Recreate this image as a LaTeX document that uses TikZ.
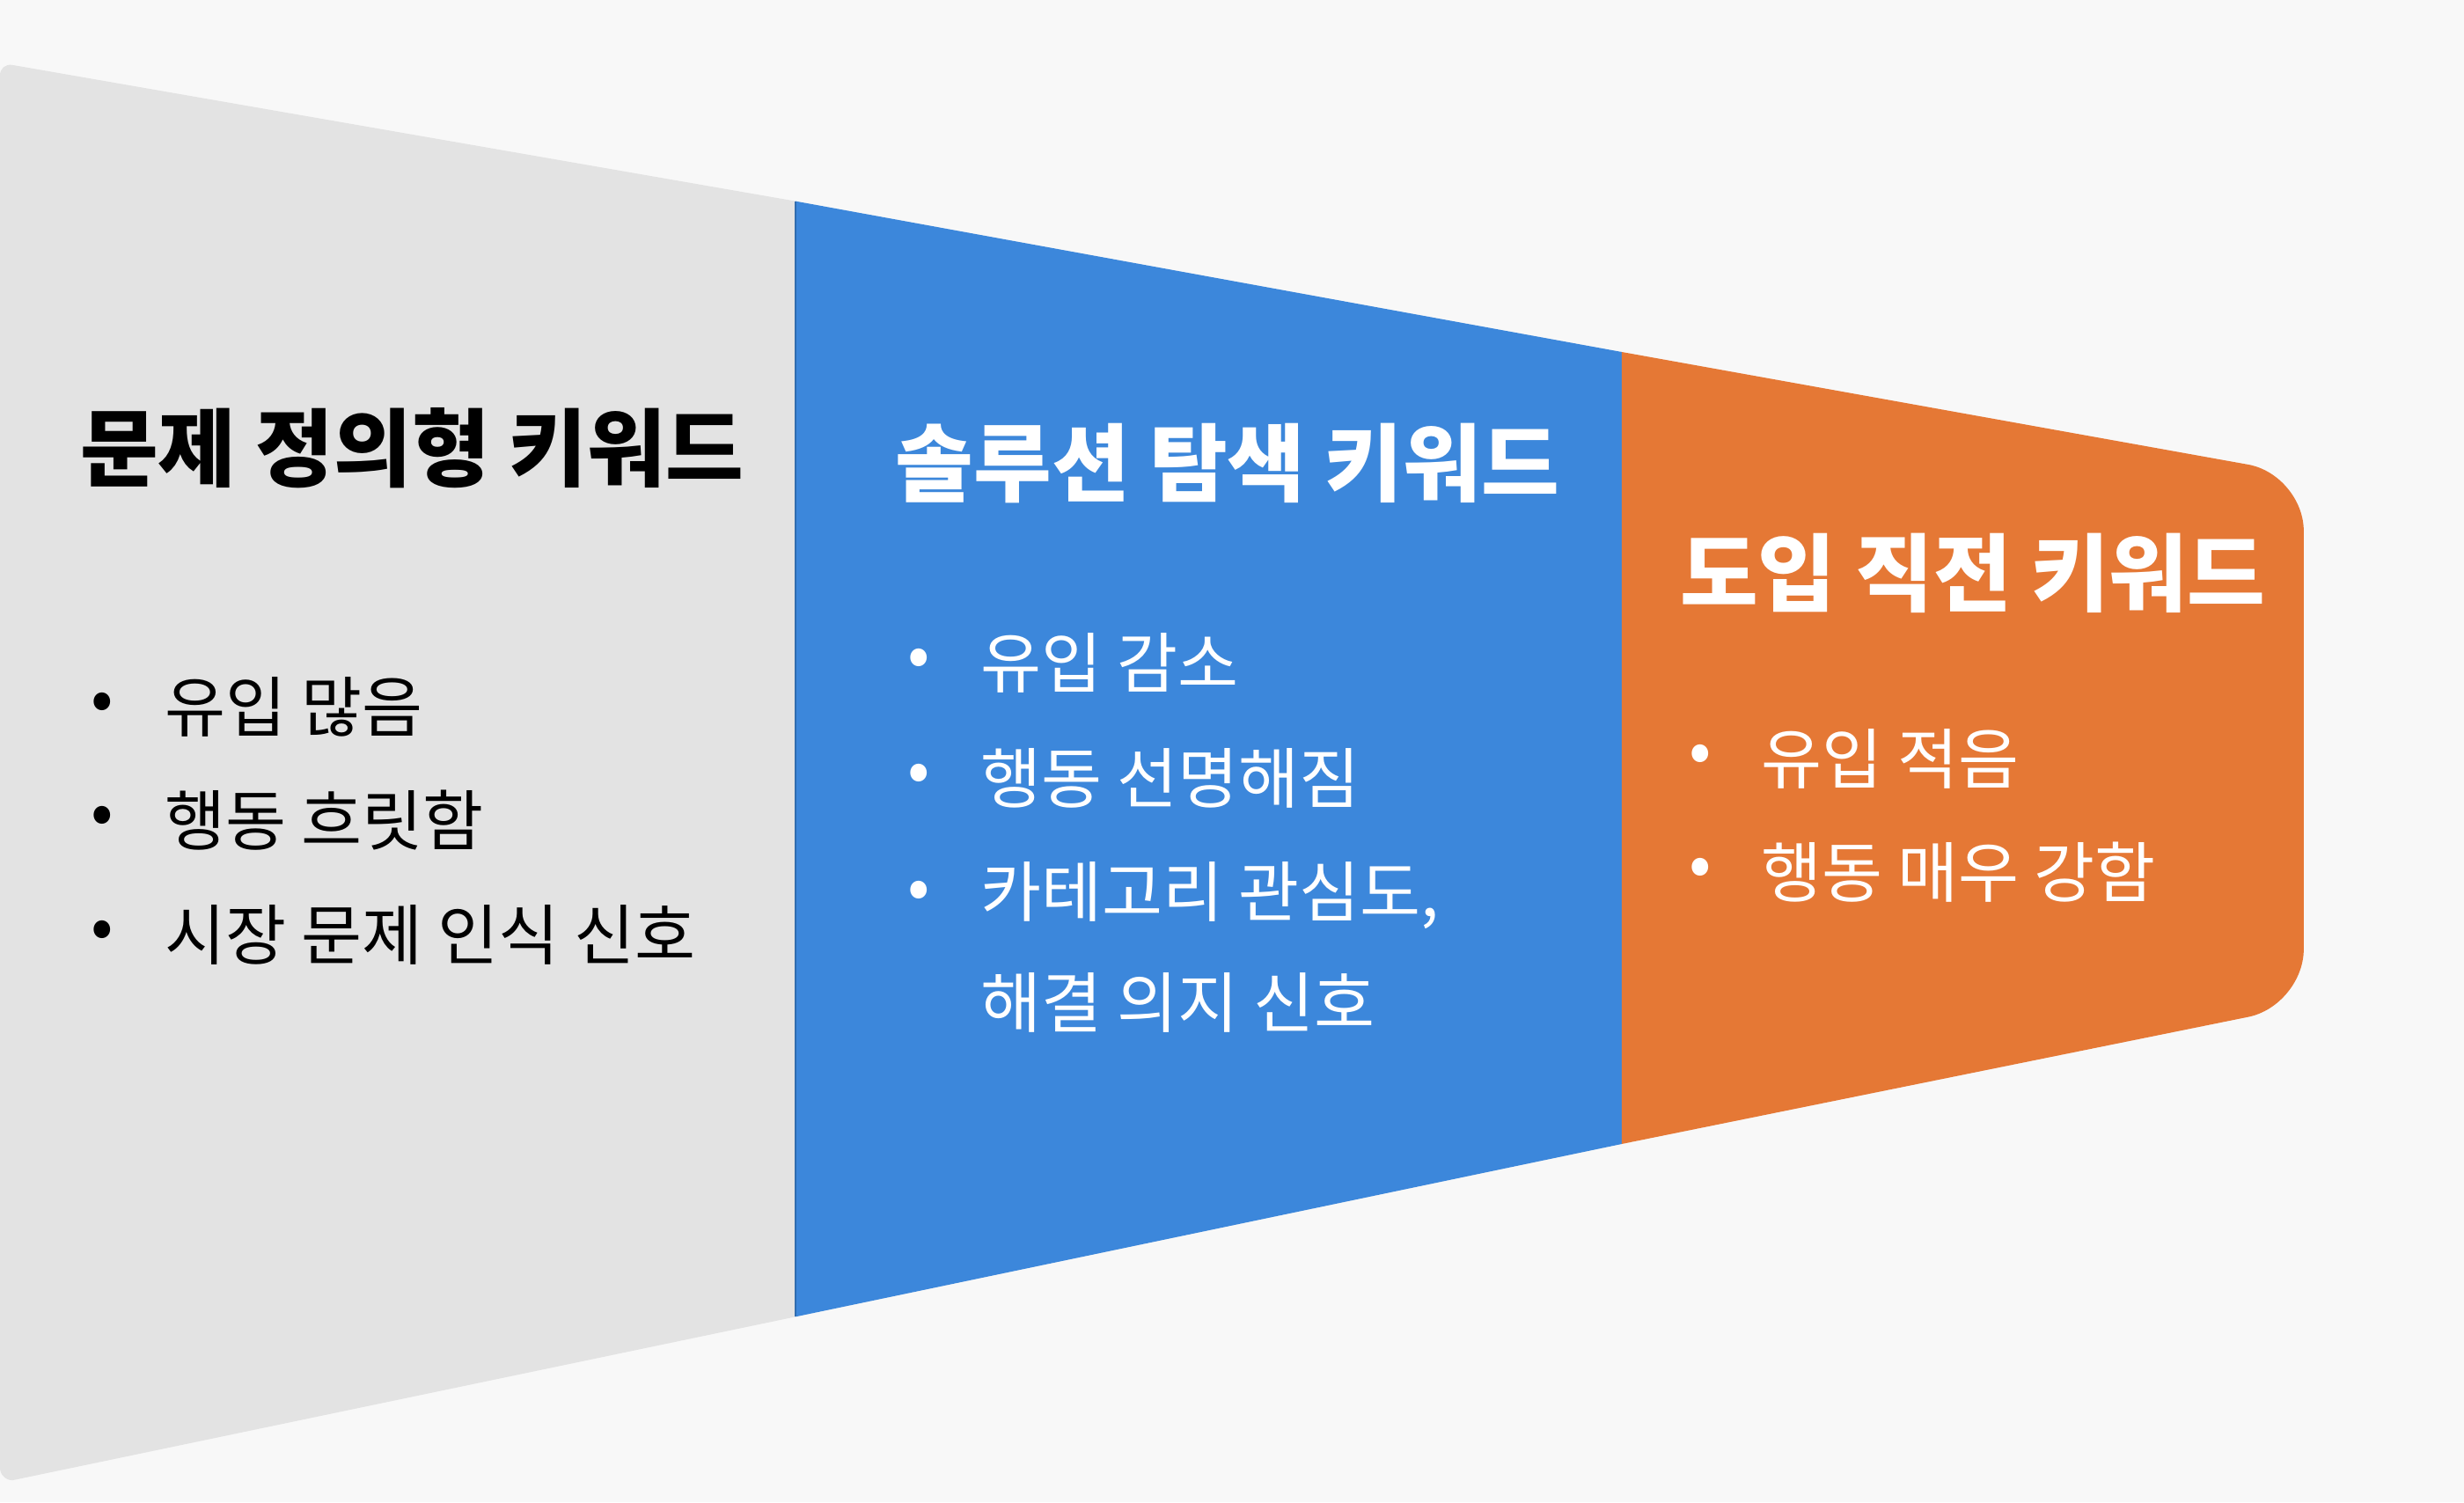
\documentclass[tikz,border=0pt]{standalone}
\usepackage{fontspec}
\setmainfont{Noto Sans CJK KR}
\newfontfamily\krb{Noto Sans CJK KR Bold}
\definecolor{bg}{HTML}{F8F8F8}
\definecolor{gfill}{HTML}{E3E3E3}
\definecolor{bfill}{HTML}{3C87DB}
\definecolor{ofill}{HTML}{E57835}
\begin{document}
\begin{tikzpicture}[x=0.5pt,y=-0.5pt,
  ttl/.style={anchor=west,font=\fontsize{27}{32}\selectfont\bfseries},
  itm/.style={anchor=west,font=\fontsize{21}{26}\selectfont},
  dot/.style={anchor=center,font=\fontsize{21}{26}\selectfont}]
\fill[bg] (0,0) rectangle (1568,956);
\useasboundingbox (0,0) rectangle (1568,956);
\fill[gfill] (0,40) -- (506,128) -- (506,838) -- (8,942) [rounded corners=4pt]-- (0,942) -- cycle;
\fill[bfill] (506,128) -- (1032,224) -- (1032,728) -- (506,838) -- cycle;
\draw[bfill!80!black,line width=0.6pt] (506,128) -- (506,838);
\fill[ofill] (1032,224) [rounded corners=18pt]-- (1466,302) -- (1466,640) [sharp corners]-- (1032,728) -- cycle;
% gray
\node[ttl,text=black] (t1) at (44,285) {문제 정의형 키워드};
\node[dot] (d11) at (65,450) {•}; \node[itm] (i11) at (98,450) {유입 많음};
\node[dot] (d12) at (65,522) {•}; \node[itm] (i12) at (98,522) {행동 흐릿함};
\node[dot] (d13) at (65,595) {•}; \node[itm] (i13) at (98,595) {시장 문제 인식 신호};
% blue
\node[ttl,text=white] (t2) at (563,295) {솔루션 탐색 키워드};
\node[dot,text=white] (d21) at (585,422) {•}; \node[itm,text=white] (i21) at (617,422) {유입 감소};
\node[dot,text=white] (d22) at (585,495) {•}; \node[itm,text=white] (i22) at (617,495) {행동 선명해짐};
\node[dot,text=white] (d23) at (585,570) {•}; \node[itm,text=white] (i23) at (617,570) {카테고리 관심도,};
\node[itm,text=white] (i24) at (617,638) {해결 의지 신호};
% orange
\node[ttl,text=white] (t3) at (1062,365) {도입 직전 키워드};
\node[dot,text=white] (d31) at (1082,483) {•}; \node[itm,text=white] (i31) at (1114,483) {유입 적음};
\node[dot,text=white] (d32) at (1082,555) {•}; \node[itm,text=white] (i32) at (1114,555) {행동 매우 강함};
\end{tikzpicture}
\end{document}
